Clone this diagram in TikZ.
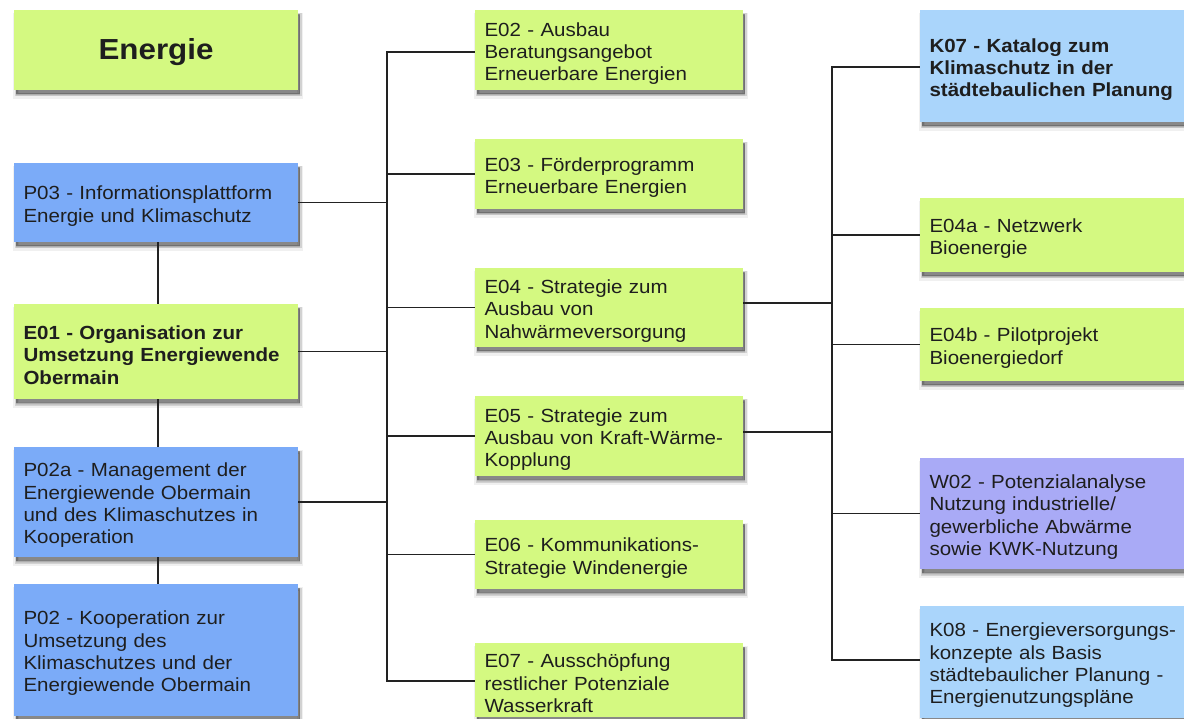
\documentclass[tikz,border=0pt]{standalone}
\usepackage{fontspec}
\setmainfont{Liberation Sans}[FakeStretch=1.08]
\usetikzlibrary{shadows}

\definecolor{boxgreen}{HTML}{D4F981}
\definecolor{boxblue}{HTML}{7BABF8}
\definecolor{boxsky}{HTML}{AAD5FB}
\definecolor{boxviolet}{HTML}{A9AAF6}
\definecolor{ink}{HTML}{1E1E1E}
\definecolor{linkgray}{HTML}{222222}

\newcommand\boxfont{\fontsize{19}{22.3}\selectfont}

\begin{document}
\begin{tikzpicture}[x=1pt,y=-1pt,
  cardshadow/.style={
    general shadow={fill=black, draw=black, line width=6pt, opacity=.06,
                    shadow xshift=2pt, shadow yshift=-6pt},
    general shadow={fill=black, draw=black, line width=3pt, opacity=.12,
                    shadow xshift=2pt, shadow yshift=-5pt},
    general shadow={fill=black, opacity=.35,
                    shadow xshift=2pt, shadow yshift=-4pt}},
  card/.style={rectangle, inner sep=0pt, cardshadow},
  lcard/.style={card, minimum width=284pt},
  ecard/.style={card, minimum width=268pt, fill=boxgreen},
  rcard/.style={card, minimum width=266pt},
  cardtext/.style={inner xsep=9.5pt, inner ysep=0pt, align=left,
                   font=\boxfont, text=ink, yshift=-3.5pt},
  ltext/.style={cardtext, text width=265pt},
  etext/.style={cardtext, text width=249pt},
  rtext/.style={cardtext, text width=247pt},
  link/.style={draw=linkgray, line width=1.5pt}
]
\useasboundingbox (0,0) rectangle (1184,719);
\fill[white] (0,0) rectangle (1184,719);

% left column
\node[lcard, fill=boxgreen, minimum height=80pt] (title) at (156,50) {};
\node[ltext, align=center, yshift=1.5pt] (titletext) at (title)
  {\fontsize{29}{34}\selectfont\bfseries Energie};
\node[lcard, fill=boxblue, minimum height=79pt] (p03) at (156,202.5) {};
\node[ltext] (p03text) at (p03)
  {P03 - Informationsplattform\\Energie und Klimaschutz};
\node[lcard, fill=boxgreen, minimum height=95pt] (e01) at (156,351.5) {};
\node[ltext, font=\boxfont\bfseries] (e01text) at (e01)
  {E01 - Organisation zur\\Umsetzung Energiewende\\Obermain};
\node[lcard, fill=boxblue, minimum height=110pt] (p02a) at (156,502) {};
\node[ltext] (p02atext) at (p02a)
  {P02a - Management der\\Energiewende Obermain\\und des Klimaschutzes in\\Kooperation};
\node[lcard, fill=boxblue, minimum height=132pt] (p02) at (156,650) {};
\node[ltext] (p02text) at (p02)
  {P02 - Kooperation zur\\Umsetzung des\\Klimaschutzes und der\\Energiewende Obermain};

% middle column
\node[ecard, minimum height=80pt] (e02) at (609,50) {};
\node[etext] (e02text) at (e02)
  {E02 - Ausbau\\Beratungsangebot\\Erneuerbare Energien};
\node[ecard, minimum height=70pt] (e03) at (609,174) {};
\node[etext] (e03text) at (e03)
  {E03 - Förderprogramm\\Erneuerbare Energien};
\node[ecard, minimum height=79pt] (e04) at (609,307.5) {};
\node[etext] (e04text) at (e04)
  {E04 - Strategie zum\\Ausbau von\\Nahwärmeversorgung};
\node[ecard, minimum height=80pt] (e05) at (609,436) {};
\node[etext] (e05text) at (e05)
  {E05 - Strategie zum\\Ausbau von Kraft-Wärme-\\Kopplung};
\node[ecard, minimum height=69pt] (e06) at (609,554.5) {};
\node[etext] (e06text) at (e06)
  {E06 - Kommunikations-\\Strategie Windenergie};
\node[ecard, minimum height=74pt] (e07) at (609,680) {};
\node[etext] (e07text) at (e07)
  {E07 - Ausschöpfung\\restlicher Potenziale\\Wasserkraft};

% right column
\node[rcard, fill=boxsky, minimum height=112pt] (k07) at (1053,66) {};
\node[rtext, font=\boxfont\bfseries] (k07text) at (k07)
  {K07 - Katalog zum\\Klimaschutz in der\\städtebaulichen Planung};
\node[rcard, fill=boxgreen, minimum height=74pt] (e04a) at (1053,235) {};
\node[rtext] (e04atext) at (e04a)
  {E04a - Netzwerk\\Bioenergie};
\node[rcard, fill=boxgreen, minimum height=73pt] (e04b) at (1053,344.5) {};
\node[rtext] (e04btext) at (e04b)
  {E04b - Pilotprojekt\\Bioenergiedorf};
\node[rcard, fill=boxviolet, minimum height=111pt] (w02) at (1053,513.5) {};
\node[rtext] (w02text) at (w02)
  {W02 - Potenzialanalyse\\Nutzung industrielle/\\gewerbliche Abwärme\\sowie KWK-Nutzung};
\node[rcard, fill=boxsky, minimum height=112pt] (k08) at (1053,662) {};
\node[rtext] (k08text) at (k08)
  {K08 - Energieversorgungs-\\konzepte als Basis\\städtebaulicher Planung -\\Energienutzungspläne};

% bus lines
\coordinate (busL) at (387,0);
\coordinate (busR) at (832,0);

% vertical chain in the left column
\draw[link] ([xshift=2pt]p03.south) -- ([xshift=2pt]e01.north)
            ([xshift=2pt]e01.south) -- ([xshift=2pt]p02a.north)
            ([xshift=2pt]p02a.south) -- ([xshift=2pt]p02.north);

% left bus
\draw[link] ([yshift=-2pt]e02.west) -- ([yshift=-2pt]e02.west -| busL)
  -- ([yshift=-1pt]e07.west -| busL) -- ([yshift=-1pt]e07.west);
\foreach \n in {e03,e04,e05,e06}
  \draw[link] (\n.west -| busL) -- (\n.west);
\foreach \n in {p03,e01,p02a}
  \draw[link] (\n.east) -- (\n.east -| busL);

% right bus
\draw[link] ([yshift=-1pt]k07.west) -- ([yshift=-1pt]k07.west -| busR)
  -- ([yshift=2pt]k08.west -| busR) -- ([yshift=2pt]k08.west);
\foreach \n in {e04a,e04b,w02}
  \draw[link] (\n.west -| busR) -- (\n.west);
\draw[link] ([yshift=4.5pt]e04.east) -- ([yshift=4.5pt]e04.east -| busR);
\draw[link] ([yshift=4pt]e05.east) -- ([yshift=4pt]e05.east -| busR);
\end{tikzpicture}
\end{document}
